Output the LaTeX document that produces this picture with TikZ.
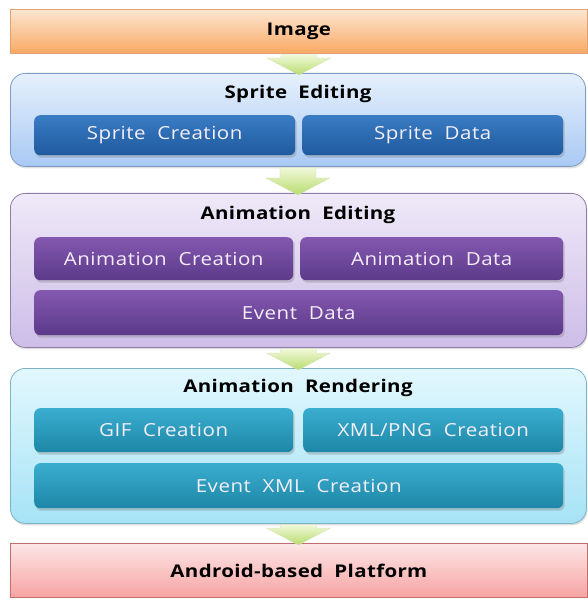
\documentclass[tikz,border=0pt]{standalone}
\usepackage{fontspec}
\setmainfont{Open Sans}
\newfontfamily\itemfont[FakeStretch=1.14, LetterSpace=3]{Open Sans}
\newfontfamily\headfont[FakeStretch=1.17, LetterSpace=2]{Open Sans}
\usetikzlibrary{shadows,calc}
\definecolor{orgT}{HTML}{FDE6D2}\definecolor{orgB}{HTML}{F9A862}\definecolor{orgL}{HTML}{E0A274}
\definecolor{bluT}{HTML}{E6F0FC}\definecolor{bluB}{HTML}{A9C9F4}\definecolor{bluL}{HTML}{7F9CC4}
\definecolor{bldT}{HTML}{3A7CC4}\definecolor{bldB}{HTML}{1F5A9E}
\definecolor{purT}{HTML}{EFE9F8}\definecolor{purB}{HTML}{CDBDE8}\definecolor{purL}{HTML}{8E7FA8}
\definecolor{pudT}{HTML}{8458B0}\definecolor{pudB}{HTML}{5C3A8A}
\definecolor{cyaT}{HTML}{E2F7FD}\definecolor{cyaB}{HTML}{A6E3F6}\definecolor{cyaL}{HTML}{7CB4C4}
\definecolor{cydT}{HTML}{3AAED0}\definecolor{cydB}{HTML}{1E86A6}
\definecolor{pnkT}{HTML}{FDE6E6}\definecolor{pnkB}{HTML}{F7A3A3}\definecolor{pnkL}{HTML}{C06E6E}
\definecolor{grnT}{HTML}{F0F8D8}\definecolor{grnB}{HTML}{B8DC6E}
\definecolor{itemtext}{HTML}{F4EEF8}
\tikzset{
  x=1pt,y=1pt,
  bar/.style={draw=#1, line width=0.8pt, anchor=north west, inner sep=0pt,
    font=\headfont\fontsize{17.5}{19}\selectfont\bfseries},
  group/.style={draw=#1, line width=0.8pt, rounded corners=15pt, anchor=north west, inner sep=0pt,
    drop shadow={opacity=0.25,shadow xshift=1pt,shadow yshift=-2pt}},
  grouptitle/.style={font=\headfont\fontsize{17.5}{19}\selectfont\bfseries, inner sep=1pt},
  item/.style={rounded corners=6pt, anchor=north west, inner sep=0pt, text=itemtext,
    font=\itemfont\fontsize{18}{20}\selectfont,
    drop shadow={opacity=0.35,shadow xshift=1.5pt,shadow yshift=-2.5pt}},
  flow/.style={top color=grnT, bottom color=grnB, draw=grnB!80!black!40, line width=0.3pt}
}
\newcommand{\flowarrow}[2]{%
  \shade[flow] let \p1=(#1.south), \p2=(#2.north) in
    (\x1-18pt,\y1-1pt) -- (\x1+18pt,\y1-1pt) -- (\x1+18pt,\y2+15pt) -- (\x1+32pt,\y2+15pt)
    -- (\x1,\y2-2pt) -- (\x1-32pt,\y2+15pt) -- (\x1-18pt,\y2+15pt) -- cycle;}
\begin{document}
\begin{tikzpicture}
\useasboundingbox (0,0) rectangle (587,-601);
% bars
\node[bar=orgL, top color=orgT, bottom color=orgB, minimum width=577, minimum height=44] (img) at (10,-9) {Image};
\node[bar=pnkL, top color=pnkT, bottom color=pnkB, minimum width=577, minimum height=54] (and) at (10,-543) {Android-based\ \ Platform};
% groups
\node[group=bluL, top color=bluT, bottom color=bluB, minimum width=575, minimum height=93] (spr) at (10,-73) {};
\node[group=purL, top color=purT, bottom color=purB, minimum width=576, minimum height=154] (ani) at (10,-193) {};
\node[group=cyaL, top color=cyaT, bottom color=cyaB, minimum width=576, minimum height=155] (ren) at (10,-368) {};
% titles
\node[grouptitle] (sprt) at (298,-94) {Sprite\ \ Editing};
\node[grouptitle] (anit) at (298,-215) {Animation\ \ Editing};
\node[grouptitle] (rent) at (298,-388) {Animation\ \ Rendering};
% items
\node[item, top color=bldT, bottom color=bldB, minimum width=261, minimum height=40] (sc) at (34,-115) {Sprite\ \ Creation};
\node[item, top color=bldT, bottom color=bldB, minimum width=261, minimum height=40] (sd) at (302,-115) {Sprite\ \ Data};
\node[item, top color=pudT, bottom color=pudB, minimum width=259, minimum height=43] (ac) at (34,-237) {Animation\ \ Creation};
\node[item, top color=pudT, bottom color=pudB, minimum width=263, minimum height=43] (ad) at (300,-237) {Animation\ \ Data};
\node[item, top color=pudT, bottom color=pudB, minimum width=529, minimum height=45] (ed) at (34,-290) {Event\ \ Data};
\node[item, top color=cydT, bottom color=cydB, minimum width=259, minimum height=44] (gc) at (34,-408) {GIF\ \ Creation};
\node[item, top color=cydT, bottom color=cydB, minimum width=260, minimum height=44] (xc) at (303,-408) {XML/PNG\ \ Creation};
\node[item, top color=cydT, bottom color=cydB, minimum width=529, minimum height=45] (ex) at (34,-463) {Event\ \ XML\ \ Creation};
% arrows
\flowarrow{img}{spr}
\flowarrow{spr}{ani}
\flowarrow{ani}{ren}
\flowarrow{ren}{and}
\end{tikzpicture}
\end{document}
